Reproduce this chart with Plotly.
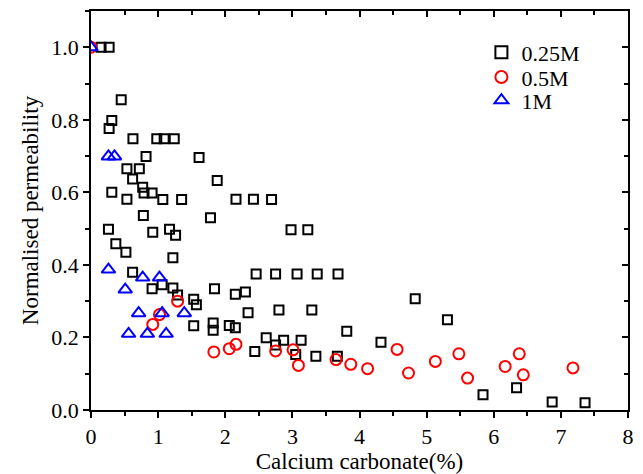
import plotly.graph_objects as go

# 0.25M series
x_025 = [0.15, 0.27, 0.45, 0.31, 0.27, 0.625, 0.98, 1.09, 1.24, 0.82, 1.61, 0.535, 0.72, 0.62, 1.88,
         0.77, 0.31, 0.79, 0.91, 0.535, 1.07, 1.35, 2.16, 2.42, 2.69, 0.78, 1.78, 2.98, 3.23, 0.26,
         0.92, 1.17, 1.26, 0.37, 0.52, 1.22, 0.62, 2.46, 2.75, 3.07, 3.37, 3.68, 0.91, 1.06, 1.22,
         1.29, 1.84, 1.53, 1.57, 2.15, 2.30, 2.34, 2.80, 3.29, 3.81, 4.83, 5.31, 1.53, 1.82, 1.82,
         2.06, 2.15, 2.61, 2.87, 3.13, 2.75, 2.44, 3.05, 3.35, 3.67, 4.32, 5.84, 6.34, 6.87, 7.36]
y_025 = [1.0, 1.0, 0.855, 0.798, 0.776, 0.748, 0.748, 0.748, 0.748, 0.699, 0.696, 0.665, 0.665, 0.637, 0.633,
         0.614, 0.60, 0.598, 0.598, 0.581, 0.58, 0.58, 0.581, 0.581, 0.58, 0.536, 0.53, 0.497, 0.497, 0.498,
         0.49, 0.498, 0.482, 0.458, 0.435, 0.42, 0.38, 0.375, 0.375, 0.375, 0.375, 0.375, 0.334, 0.345, 0.336,
         0.317, 0.334, 0.305, 0.29, 0.319, 0.325, 0.268, 0.276, 0.276, 0.217, 0.307, 0.249, 0.232, 0.24, 0.22,
         0.233, 0.227, 0.199, 0.192, 0.192, 0.179, 0.161, 0.153, 0.148, 0.148, 0.187, 0.042, 0.061, 0.022, 0.02]

# 0.5M series
x_05 = [0.0, 1.29, 1.02, 0.92, 1.83, 2.06, 2.16, 2.75, 3.01, 3.09, 3.65, 3.87, 4.12, 4.56, 4.73,
        5.13, 5.48, 5.61, 6.17, 6.38, 6.44, 7.18]
y_05 = [1.0, 0.30, 0.263, 0.236, 0.16, 0.169, 0.181, 0.163, 0.166, 0.123, 0.139, 0.126, 0.114, 0.167, 0.102,
        0.134, 0.155, 0.088, 0.12, 0.155, 0.097, 0.116]

# 1M series
x_1 = [0.0, 0.26, 0.35, 0.26, 0.77, 1.02, 0.51, 0.71, 1.06, 1.39, 0.56, 0.84, 1.12]
y_1 = [1.0, 0.699, 0.699, 0.387, 0.365, 0.365, 0.332, 0.267, 0.267, 0.267, 0.21, 0.21, 0.21]

x_ticks = [0, 1, 2, 3, 4, 5, 6, 7, 8]
y_ticks = [0.0, 0.2, 0.4, 0.6, 0.8, 1.0]

FONT = "Liberation Serif"

fig = go.Figure()
fig.add_trace(go.Scatter(x=x_025, y=y_025, mode="markers", name="0.25M", legend="legend",
                         marker=dict(symbol="square-open", size=9, color="black",
                                     line=dict(width=2, color="black"))))
fig.add_trace(go.Scatter(x=x_05, y=y_05, mode="markers", name="0.5M", legend="legend2",
                         marker=dict(symbol="circle-open", size=11, color="red",
                                     line=dict(width=2, color="red"))))
fig.add_trace(go.Scatter(x=x_1, y=y_1, mode="markers", name="1M", legend="legend3",
                         marker=dict(symbol="triangle-up-open", size=12, color="blue",
                                     line=dict(width=2, color="blue"))))
# invisible trace for mirrored axes
fig.add_trace(go.Scatter(x=[0], y=[0], xaxis="x2", yaxis="y2", mode="markers",
                         marker=dict(opacity=0), showlegend=False, hoverinfo="skip"))

axis_common = dict(showgrid=False, zeroline=False, showline=True, linecolor="black",
                   linewidth=1.5, tickcolor="black", tickwidth=1.5, automargin=False)

leg_common = dict(xanchor="left", yanchor="middle", bgcolor="rgba(0,0,0,0)",
                  font=dict(family=FONT, size=22), itemsizing="constant")

fig.update_layout(
    width=643, height=474,
    margin=dict(l=91, r=15, t=11, b=64),
    paper_bgcolor="white", plot_bgcolor="white",
    font=dict(family=FONT, size=22, color="black"),
    xaxis=dict(range=[0, 8], tickvals=x_ticks, ticks="outside", ticklen=6,
               minor=dict(dtick=0.5, tick0=0, ticks="outside", ticklen=4, tickcolor="black", tickwidth=1.5),
               title=dict(text="Calcium carbonate(%)", font=dict(size=23), standoff=4),
               tickfont=dict(size=22), **axis_common),
    yaxis=dict(range=[0, 1.1], tickvals=y_ticks, tickformat=".1f", ticks="outside", ticklen=6,
               minor=dict(dtick=0.1, tick0=0, ticks="outside", ticklen=4, tickcolor="black", tickwidth=1.5),
               title=dict(text="Normalised permeability", font=dict(size=23), standoff=6),
               tickfont=dict(size=22), **axis_common),
    xaxis2=dict(range=[0, 8], overlaying="x", side="top", anchor="y2", tickvals=x_ticks,
                showticklabels=False, ticks="inside", ticklen=6,
                minor=dict(dtick=0.5, tick0=0, ticks="inside", ticklen=4, tickcolor="black", tickwidth=1.5),
                **axis_common),
    yaxis2=dict(range=[0, 1.1], overlaying="y", side="right", anchor="x2", tickvals=y_ticks,
                showticklabels=False, ticks="inside", ticklen=6,
                minor=dict(dtick=0.1, tick0=0, ticks="inside", ticklen=4, tickcolor="black", tickwidth=1.5),
                **axis_common),
    legend=dict(x=0.727, y=0.896, **leg_common),
    legend2=dict(x=0.727, y=0.834, **leg_common),
    legend3=dict(x=0.727, y=0.776, **leg_common),
    showlegend=True,
)

fig.write_html("out.html")
